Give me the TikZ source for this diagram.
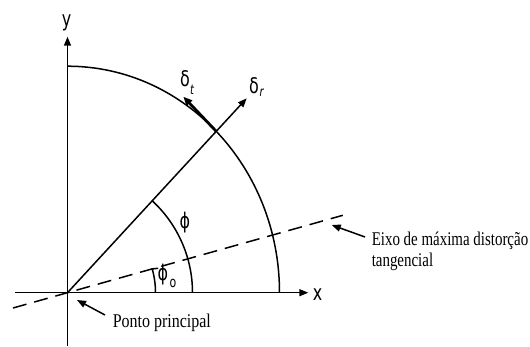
\documentclass[tikz,border=0pt]{standalone}
\usepackage{graphicx}
\usepackage{fontspec}
\setmainfont{Liberation Serif}
\newfontfamily\lblfont{DejaVu Sans}
\newcommand\tallbox[1]{\scalebox{1}[1.35]{#1}}
\usetikzlibrary{arrows.meta}
\begin{document}
\begin{tikzpicture}[x=1bp,y=1bp,line width=1.5bp,
  ax/.style={-{Triangle[length=9bp,width=7bp]}},
  ptr/.style={-{Triangle[length=9bp,width=7bp]}},
  lbl/.style={font=\lblfont\fontsize{16}{16}\selectfont,inner sep=0pt},
  sublbl/.style={font=\lblfont\itshape\fontsize{10}{10}\selectfont,inner sep=0pt},
  note/.style={font=\fontsize{15}{16}\selectfont,inner sep=0pt,align=left,anchor=west},
  dashline/.style={dash pattern=on 14bp off 8bp}]
\useasboundingbox (0,0) rectangle (530,346);
% key points
\coordinate (O) at (67.5,53.3);
\coordinate (ybot) at (67.5,0);
\coordinate (ytip) at (67.5,309.3);
\coordinate (xleft) at (15,53.3);
\coordinate (xtip) at (308.3,53.3);
\coordinate (rtip) at (246.7,247.7);
\coordinate (C) at (216.3,214.6);
\coordinate (ttip) at (183.3,249.3);
\coordinate (dA) at (13,38);
\coordinate (dB) at (342.8,130.7);
\coordinate (bigstart) at (279.5,53.3);
\coordinate (smallstart) at (192.5,53.3);
\coordinate (ostart) at (155.5,53.3);
\coordinate (eixotip) at (331.7,121);
\coordinate (eixotail) at (365,109);
\coordinate (pontotip) at (77,46);
\coordinate (pontotail) at (105,31);
% axes
\draw[ax] (ybot) -- (ytip);
\draw[ax] (xleft) -- (xtip);
% arcs
\draw (bigstart) arc[start angle=0,end angle=90,x radius=212,y radius=226.5];
\draw (smallstart) arc[start angle=0,end angle=47.3,radius=125];
\draw (ostart) arc[start angle=0,end angle=15.7,radius=88] -- ++(6,0.6);
% radial and tangential vectors
\draw[ax] (O) -- (rtip);
\draw[-{Triangle[length=9bp,width=7.5bp]},line width=2.8bp] (C) -- (ttip);
% dashed axis
\draw[dashline] (dA) -- (dB);
% labels
\node[lbl] (ylab) at (66.7,323.5) {\tallbox{y}};
\node[lbl] (xlab) at (317.5,51) {\tallbox{x}};
\node[lbl] (dt) at (185,267.7) {\tallbox{δ}};
\node[sublbl] (dtsub) at (192,256) {\tallbox{t}};
\node[lbl] (dr) at (254,260) {\tallbox{δ}};
\node[sublbl] (drsub) at (261.7,253) {\tallbox{r}};
\node[lbl] (phi) at (185,123) {\tallbox{ϕ}};
\node[lbl] (phio) at (163,71) {\tallbox{ϕ}};
\node[sublbl,font=\lblfont\fontsize{11}{11}\selectfont] (phiosub) at (173,63) {\tallbox{o}};
\node[note] (eixo) at (371,94) {\scalebox{1}[1.3]{\begin{tabular}{@{}l@{}}Eixo de máxima distorção\\tangencial\end{tabular}}};
\node[note] (ponto) at (112,23) {\scalebox{1.07}[1.3]{Ponto principal}};
% pointers
\draw[ptr] (eixotail) -- (eixotip);
\draw[ptr] (pontotail) -- (pontotip);
\end{tikzpicture}
\end{document}
